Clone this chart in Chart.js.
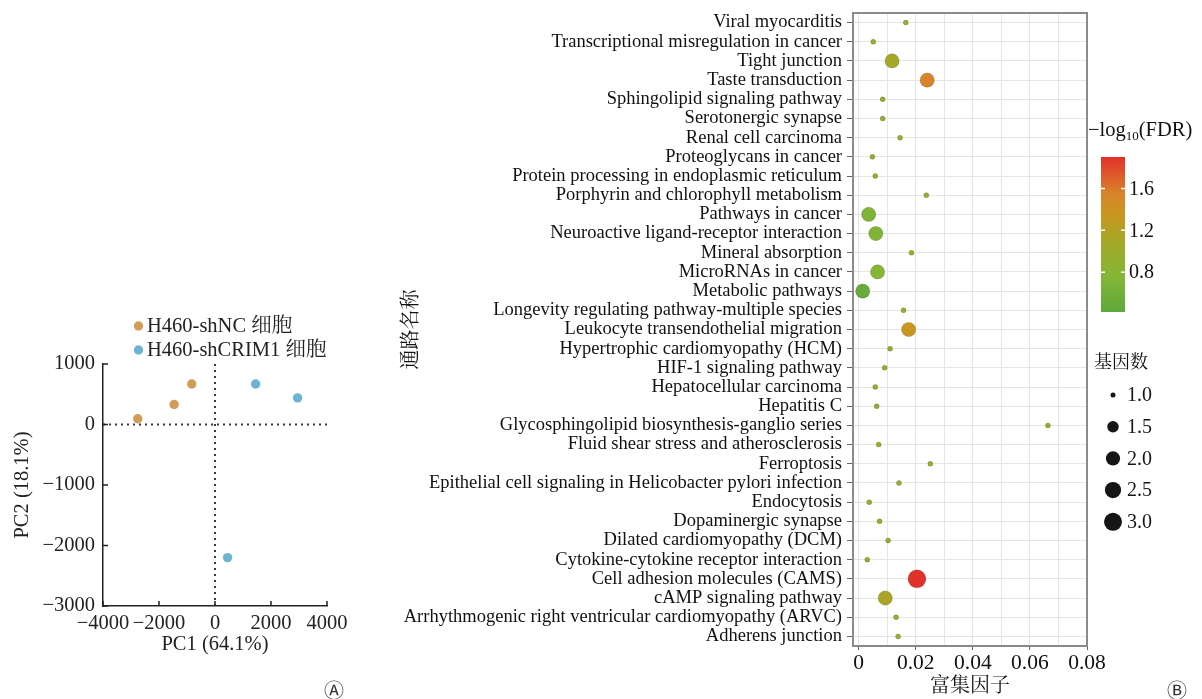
<!DOCTYPE html>
<html>
<head>
<meta charset="utf-8">
<script src="https://cdn.jsdelivr.net/npm/chart.js@4.4.1/dist/chart.umd.min.js"></script>
<style>
    html, body { margin: 0; padding: 0; background: #fff; }
    body { width: 1202px; height: 699px; position: relative; overflow: hidden; }
    #pcaWrap { position: absolute; left: 0; top: 0; width: 370px; height: 699px; }
    #keggWrap { position: absolute; left: 380px; top: 0; width: 822px; height: 699px; }
    .tag { position: absolute; top: 675px; font: 20px "DejaVu Sans", "Noto Sans CJK SC", sans-serif; color: #333; }
</style>
</head>
<body>
<div id="pcaWrap"><canvas id="pcaChart"></canvas></div>
<div id="keggWrap"><canvas id="keggChart"></canvas></div>
<div class="tag" style="left:324px">Ⓐ</div>
<div class="tag" style="left:1167px">Ⓑ</div>
<script>
// Panel A: PCA scores
const pcaGroups = ['H460-shNC 细胞', 'H460-shCRIM1 细胞'];
const shNC_PC1 = [-2760, -1460, -830];
const shNC_PC2 = [95, 330, 670];
const shCRIM1_PC1 = [1450, 2950, 450];
const shCRIM1_PC2 = [670, 440, -2200];

// Panel B: KEGG enrichment
const pathways = [
    'Viral myocarditis',
    'Transcriptional misregulation in cancer',
    'Tight junction',
    'Taste transduction',
    'Sphingolipid signaling pathway',
    'Serotonergic synapse',
    'Renal cell carcinoma',
    'Proteoglycans in cancer',
    'Protein processing in endoplasmic reticulum',
    'Porphyrin and chlorophyll metabolism',
    'Pathways in cancer',
    'Neuroactive ligand-receptor interaction',
    'Mineral absorption',
    'MicroRNAs in cancer',
    'Metabolic pathways',
    'Longevity regulating pathway-multiple species',
    'Leukocyte transendothelial migration',
    'Hypertrophic cardiomyopathy (HCM)',
    'HIF-1 signaling pathway',
    'Hepatocellular carcinoma',
    'Hepatitis C',
    'Glycosphingolipid biosynthesis-ganglio series',
    'Fluid shear stress and atherosclerosis',
    'Ferroptosis',
    'Epithelial cell signaling in Helicobacter pylori infection',
    'Endocytosis',
    'Dopaminergic synapse',
    'Dilated cardiomyopathy (DCM)',
    'Cytokine-cytokine receptor interaction',
    'Cell adhesion molecules (CAMS)',
    'cAMP signaling pathway',
    'Arrhythmogenic right ventricular cardiomyopathy (ARVC)',
    'Adherens junction'
];
const richFactor = [0.0165, 0.0051, 0.0117, 0.0240, 0.0084, 0.0084, 0.0145, 0.0048, 0.0058, 0.0237,
                    0.0035, 0.0060, 0.0185, 0.0066, 0.0014, 0.0157, 0.0175, 0.0110, 0.0091, 0.0058,
                    0.0063, 0.0663, 0.0070, 0.0251, 0.0141, 0.0037, 0.0073, 0.0103, 0.0030, 0.0204,
                    0.0093, 0.0131, 0.0138];
const geneCount = [1, 1, 2, 2, 1, 1, 1, 1, 1, 1, 2, 2, 1, 2, 2, 1, 2, 1, 1, 1, 1, 1, 1, 1, 1, 1, 1, 1, 1, 3, 2, 1, 1];
const negLogFdr = [0.95, 0.9, 1.1, 1.55, 0.9, 0.9, 0.95, 0.9, 0.9, 1.0,
                   0.7, 0.72, 1.0, 0.78, 0.5, 0.95, 1.35, 0.9, 0.9, 0.9,
                   0.9, 1.0, 0.9, 1.0, 0.95, 0.9, 0.9, 0.9, 0.9, 1.9,
                   1.15, 0.95, 0.95];
const richTicks = [0, 0.02, 0.04, 0.06, 0.08];
const fdrTicks = [0.8, 1.2, 1.6];
const countLegend = [1.0, 1.5, 2.0, 2.5, 3.0];

const SERIF = '"Liberation Serif", "Times New Roman", "Noto Serif CJK SC", "Noto Sans CJK SC", serif';
const minus = v => String(v).replace('-', '\u2212');

// colour scale for -log10(FDR)
const fdrMin = 0.42, fdrMax = 1.9;
const fdrStops = [
    [0.42, [94, 168, 60]],
    [0.75, [132, 182, 54]],
    [1.1, [165, 168, 40]],
    [1.35, [201, 150, 31]],
    [1.55, [216, 132, 42]],
    [1.9, [226, 48, 42]]
];
function fdrColor(v) {
    if (v <= fdrStops[0][0]) return 'rgb(' + fdrStops[0][1].join(',') + ')';
    for (let i = 1; i < fdrStops.length; i++) {
        const [v1, c1] = fdrStops[i];
        const [v0, c0] = fdrStops[i - 1];
        if (v <= v1) {
            const t = (v - v0) / (v1 - v0);
            return 'rgb(' + c0.map((c, k) => Math.round(c + (c1[k] - c) * t)).join(',') + ')';
        }
    }
    return 'rgb(' + fdrStops[fdrStops.length - 1][1].join(',') + ')';
}
const bubbleRadius = g => 2.5 + 6.5 * Math.sqrt(Math.max(g - 1, 0) / 2);

// ---------- Panel A ----------
const pcaDecor = {
    id: 'pcaDecor',
    beforeDatasetsDraw(chart) {
        const {ctx, chartArea: a, scales: {x, y}} = chart;
        const x0 = x.getPixelForValue(0), y0 = y.getPixelForValue(0);
        ctx.save();
        ctx.strokeStyle = '#3a3a3a';
        ctx.lineWidth = 2;
        ctx.setLineDash([2, 4]);
        ctx.beginPath();
        ctx.moveTo(x0, a.top); ctx.lineTo(x0, a.bottom);
        ctx.moveTo(a.left, y0); ctx.lineTo(a.right, y0);
        ctx.stroke();
        ctx.restore();
    },
    afterDraw(chart) {
        const {ctx, chartArea: a, scales: {x, y}} = chart;
        ctx.save();
        // inward tick marks
        ctx.strokeStyle = '#222';
        ctx.lineWidth = 1.5;
        ctx.beginPath();
        x.ticks.forEach(t => {
            const px = x.getPixelForValue(t.value);
            ctx.moveTo(px, a.bottom); ctx.lineTo(px, a.bottom - 5);
        });
        y.ticks.forEach(t => {
            const py = y.getPixelForValue(t.value);
            ctx.moveTo(a.left, py); ctx.lineTo(a.left + 5, py);
        });
        ctx.stroke();
        // legend
        ctx.font = '20.5px ' + SERIF;
        ctx.textBaseline = 'middle';
        ctx.fillStyle = '#222';
        chart.data.datasets.forEach((ds, i) => {
            const cy = 326 + 24 * i;
            ctx.beginPath();
            ctx.fillStyle = ds.backgroundColor;
            ctx.arc(138.5, cy, 4.7, 0, Math.PI * 2);
            ctx.fill();
            ctx.fillStyle = '#222';
            ctx.fillText(ds.label, 147, cy + 1);
        });
        ctx.restore();
    }
};

new Chart(document.getElementById('pcaChart'), {
    type: 'scatter',
    data: {
        datasets: [
            {
                label: pcaGroups[0],
                data: shNC_PC1.map((v, i) => ({x: v, y: shNC_PC2[i]})),
                backgroundColor: '#d19b58',
                pointRadius: 4.7,
                borderWidth: 0
            },
            {
                label: pcaGroups[1],
                data: shCRIM1_PC1.map((v, i) => ({x: v, y: shCRIM1_PC2[i]})),
                backgroundColor: '#6fb3d3',
                pointRadius: 4.7,
                borderWidth: 0
            }
        ]
    },
    options: {
        responsive: true,
        maintainAspectRatio: false,
        animation: false,
        events: [],
        layout: { padding: { top: 364, right: 43, bottom: 36, left: 0 } },
        plugins: { legend: { display: false }, tooltip: { enabled: false } },
        scales: {
            x: {
                min: -4000, max: 4000,
                ticks: { stepSize: 2000, padding: 5, color: '#222', font: { family: SERIF, size: 20.5 }, callback: minus, maxRotation: 0 },
                grid: { display: false, drawTicks: false },
                border: { color: '#222', width: 1.5 },
                title: { display: true, text: 'PC1 (64.1%)', color: '#222', font: { family: SERIF, size: 20.5 }, padding: { top: 0, bottom: 6 } },
                afterFit(s) { s.height = 57; s.paddingLeft = 0; s.paddingRight = 0; }
            },
            y: {
                min: -3000, max: 1000,
                ticks: { stepSize: 1000, padding: 8, color: '#222', font: { family: SERIF, size: 20.5 }, callback: minus },
                grid: { display: false, drawTicks: false },
                border: { color: '#222', width: 1.5 },
                title: { display: true, text: 'PC2 (18.1%)', color: '#222', font: { family: SERIF, size: 20.5 }, padding: { top: 10, bottom: 0 } },
                afterFit(s) { s.width = 103; s.paddingTop = 0; s.paddingBottom = 0; }
            }
        }
    },
    plugins: [pcaDecor]
});

// ---------- Panel B ----------
const keggDecor = {
    id: 'keggDecor',
    beforeDatasetsDraw(chart) {
        const {ctx, chartArea: a} = chart;
        ctx.save();
        ctx.strokeStyle = '#8a8a8a';
        ctx.lineWidth = 2;
        ctx.strokeRect(a.left, a.top, a.right - a.left, a.bottom - a.top);
        ctx.restore();
    },
    afterDraw(chart) {
        const {ctx} = chart;
        ctx.save();
        // colour bar title: -log10(FDR)
        ctx.fillStyle = '#111';
        ctx.textBaseline = 'middle';
        let tx = 708;
        ctx.font = '20.5px ' + SERIF;
        ctx.fillText('\u2212log', tx, 131);
        tx += ctx.measureText('\u2212log').width;
        ctx.font = '13px ' + SERIF;
        ctx.fillText('10', tx, 137);
        tx += ctx.measureText('10').width;
        ctx.font = '20.5px ' + SERIF;
        ctx.fillText('(FDR)', tx, 131);

        // colour bar
        const bx = 721, bw = 24, yTop = 157, yBot = 312;
        const vy = v => yBot - (v - fdrMin) / (fdrMax - fdrMin) * (yBot - yTop);
        const grad = ctx.createLinearGradient(0, yBot, 0, yTop);
        fdrStops.forEach(([v]) => grad.addColorStop((v - fdrMin) / (fdrMax - fdrMin), fdrColor(v)));
        ctx.fillStyle = grad;
        ctx.fillRect(bx, yTop, bw, yBot - yTop);
        ctx.strokeStyle = '#fff';
        ctx.lineWidth = 1.5;
        ctx.font = '20px ' + SERIF;
        fdrTicks.forEach(t => {
            const py = vy(t);
            ctx.beginPath();
            ctx.moveTo(bx, py); ctx.lineTo(bx + 4, py);
            ctx.moveTo(bx + bw - 4, py); ctx.lineTo(bx + bw, py);
            ctx.stroke();
            ctx.fillStyle = '#111';
            ctx.fillText(t.toFixed(1), 749, py + 1);
        });

        // gene count legend
        ctx.font = '18px ' + SERIF;
        ctx.fillStyle = '#111';
        ctx.fillText('基因数', 714, 363);
        ctx.font = '20px ' + SERIF;
        countLegend.forEach((g, i) => {
            const cy = 395 + 31.7 * i;
            ctx.beginPath();
            ctx.fillStyle = '#151515';
            ctx.arc(733, cy, bubbleRadius(g), 0, Math.PI * 2);
            ctx.fill();
            ctx.fillText(g.toFixed(1), 747, cy + 1);
        });
        ctx.restore();
    }
};

new Chart(document.getElementById('keggChart'), {
    type: 'bubble',
    data: {
        datasets: [{
            label: '基因数',
            data: pathways.map((p, i) => ({x: richFactor[i], y: p, genes: geneCount[i], fdr: negLogFdr[i]})),
            backgroundColor: ctx => fdrColor(ctx.raw ? ctx.raw.fdr : 1),
            radius: ctx => bubbleRadius(ctx.raw ? ctx.raw.genes : 1),
            borderWidth: 0.8,
            borderColor: 'rgba(40, 40, 0, 0.25)'
        }]
    },
    options: {
        responsive: true,
        maintainAspectRatio: false,
        animation: false,
        events: [],
        layout: { padding: { top: 13, right: 115, bottom: 0, left: 0 } },
        plugins: { legend: { display: false }, tooltip: { enabled: false } },
        scales: {
            x: {
                type: 'linear',
                min: -0.002, max: 0.08,
                ticks: {
                    stepSize: 0.01, includeBounds: false, autoSkip: false, maxRotation: 0, padding: 0,
                    color: '#111', font: { family: SERIF, size: 21.5 },
                    callback: v => {
                        const r = Math.round(v * 100) / 100;
                        if (!richTicks.some(t => Math.abs(t - r) < 1e-9) || Math.abs(v - r) > 1e-6) return '';
                        return r === 0 ? '0' : r.toFixed(2);
                    }
                },
                grid: {
                    color: '#e6e6e6', lineWidth: 1, tickLength: 4,
                    tickColor: c => (Math.round(c.tick.value * 100) % 2 === 0 ? '#666' : 'rgba(0,0,0,0)')
                },
                border: { display: false },
                title: { display: true, text: '富集因子', color: '#111', font: { family: SERIF, size: 20 }, padding: { top: 0, bottom: 0 } },
                afterFit(s) { s.height = 53; s.paddingLeft = 0; s.paddingRight = 0; }
            },
            y: {
                type: 'category',
                labels: pathways,
                offset: true,
                ticks: { autoSkip: false, padding: 5, color: '#111', font: { family: SERIF, size: 18.5 } },
                grid: { color: '#e6e6e6', lineWidth: 1, tickLength: 6, tickColor: '#666' },
                border: { display: false },
                title: { display: true, text: '通路名称', color: '#111', font: { family: SERIF, size: 20 }, padding: { top: 20, bottom: 0 } },
                afterFit(s) { s.width = 473; s.paddingTop = 0; s.paddingBottom = 0; }
            }
        }
    },
    plugins: [keggDecor]
});
</script>
</body>
</html>
